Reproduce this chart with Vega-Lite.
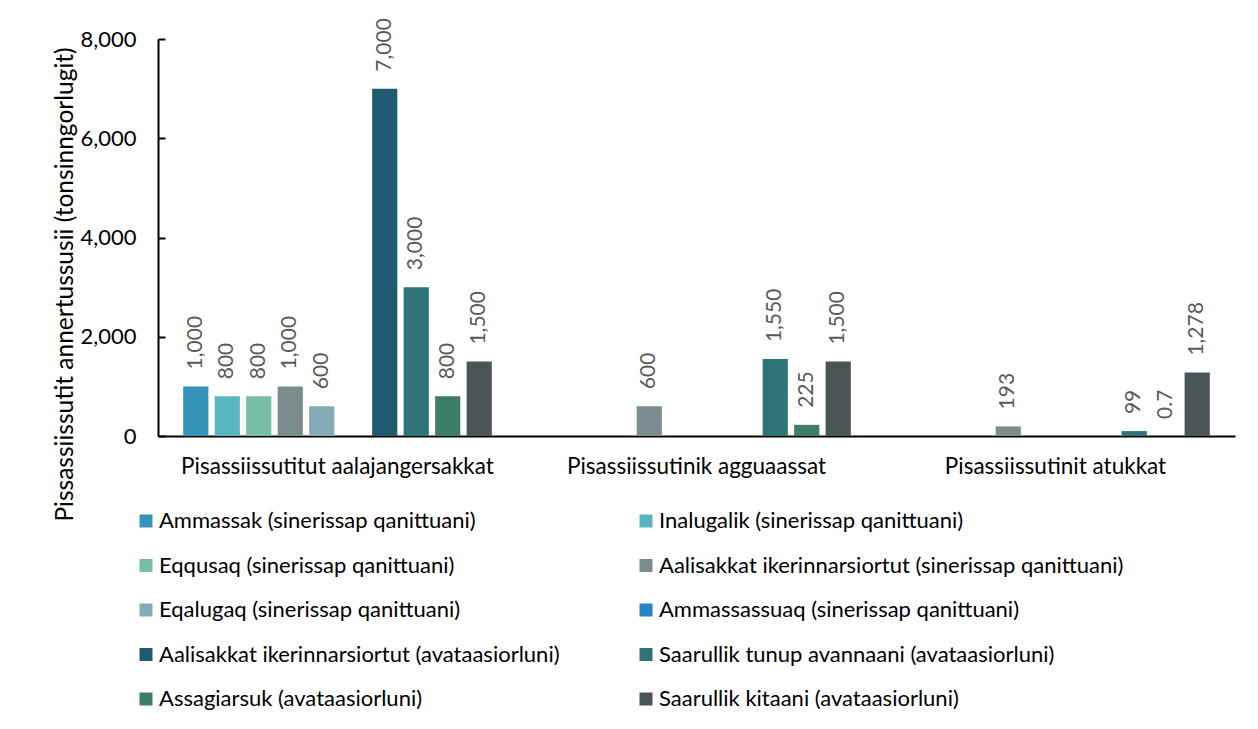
{
  "$schema": "https://vega.github.io/schema/vega-lite/v6.json",
  "autosize": "none",
  "width": 1077,
  "height": 397,
  "padding": {"left": 158, "top": 39, "right": 23, "bottom": 293},
  "background": "#ffffff",
  "config": {
    "font": "Lato",
    "view": {"stroke": null},
    "axis": {"grid": false}
  },
  "data": {
    "values": [
      {"group": "Pisassiissutitut aalajangersakkat", "series": "Ammassak (sinerissap qanittuani)", "value": 1000},
      {"group": "Pisassiissutitut aalajangersakkat", "series": "Inalugalik (sinerissap qanittuani)", "value": 800},
      {"group": "Pisassiissutitut aalajangersakkat", "series": "Eqqusaq (sinerissap qanittuani)", "value": 800},
      {"group": "Pisassiissutitut aalajangersakkat", "series": "Aalisakkat ikerinnarsiortut (sinerissap qanittuani)", "value": 1000},
      {"group": "Pisassiissutitut aalajangersakkat", "series": "Eqalugaq (sinerissap qanittuani)", "value": 600},
      {"group": "Pisassiissutitut aalajangersakkat", "series": "Aalisakkat ikerinnarsiortut (avataasiorluni)", "value": 7000},
      {"group": "Pisassiissutitut aalajangersakkat", "series": "Saarullik tunup avannaani (avataasiorluni)", "value": 3000},
      {"group": "Pisassiissutitut aalajangersakkat", "series": "Assagiarsuk (avataasiorluni)", "value": 800},
      {"group": "Pisassiissutitut aalajangersakkat", "series": "Saarullik kitaani (avataasiorluni)", "value": 1500},
      {"group": "Pisassiissutinik agguaassat", "series": "Aalisakkat ikerinnarsiortut (sinerissap qanittuani)", "value": 600},
      {"group": "Pisassiissutinik agguaassat", "series": "Saarullik tunup avannaani (avataasiorluni)", "value": 1550},
      {"group": "Pisassiissutinik agguaassat", "series": "Assagiarsuk (avataasiorluni)", "value": 225},
      {"group": "Pisassiissutinik agguaassat", "series": "Saarullik kitaani (avataasiorluni)", "value": 1500},
      {"group": "Pisassiissutinit atukkat", "series": "Aalisakkat ikerinnarsiortut (sinerissap qanittuani)", "value": 193},
      {"group": "Pisassiissutinit atukkat", "series": "Saarullik tunup avannaani (avataasiorluni)", "value": 99},
      {"group": "Pisassiissutinit atukkat", "series": "Assagiarsuk (avataasiorluni)", "value": 0.7},
      {"group": "Pisassiissutinit atukkat", "series": "Saarullik kitaani (avataasiorluni)", "value": 1278}
    ]
  },
  "encoding": {
    "x": {
      "field": "group",
      "type": "nominal",
      "sort": ["Pisassiissutitut aalajangersakkat", "Pisassiissutinik agguaassat", "Pisassiissutinit atukkat"],
      "scale": {"paddingInner": 0, "paddingOuter": 0},
      "axis": {
        "title": null,
        "labelAngle": 0,
        "ticks": false,
        "labelPadding": 19,
        "labelFontSize": 22.5,
        "labelColor": "#000000",
        "labelFont": "Lato",
        "domainColor": "#000000",
        "domainWidth": 2,
        "labelLimit": 500
      }
    },
    "xOffset": {
      "field": "series",
      "type": "nominal",
      "scale": {
        "domain": [
          "Ammassak (sinerissap qanittuani)",
          "Inalugalik (sinerissap qanittuani)",
          "Eqqusaq (sinerissap qanittuani)",
          "Aalisakkat ikerinnarsiortut (sinerissap qanittuani)",
          "Eqalugaq (sinerissap qanittuani)",
          "Ammassassuaq (sinerissap qanittuani)",
          "Aalisakkat ikerinnarsiortut (avataasiorluni)",
          "Saarullik tunup avannaani (avataasiorluni)",
          "Assagiarsuk (avataasiorluni)",
          "Saarullik kitaani (avataasiorluni)"
        ],
        "paddingInner": 0.2,
        "paddingOuter": 0.8
      }
    },
    "y": {
      "field": "value",
      "type": "quantitative",
      "scale": {"domain": [0, 8000]},
      "axis": {
        "title": "Pissassiissutit annertussusii (tonsinngorlugit)",
        "titleFontSize": 24.5,
        "titleFontWeight": "normal",
        "titleColor": "#000000",
        "titleFont": "Lato",
        "titleX": -93,
        "titleY": 245,
        "titleBaseline": "middle",
        "titleAngle": 270,
        "titleAlign": "center",
        "values": [0, 2000, 4000, 6000, 8000],
        "format": ",.0f",
        "labelFontSize": 22,
        "labelColor": "#000000",
        "labelFont": "Lato",
        "tickSize": -7,
        "tickColor": "#000000",
        "tickWidth": 2,
        "labelPadding": 29,
        "domainColor": "#000000",
        "domainWidth": 2
      }
    }
  },
  "layer": [
    {
      "mark": {"type": "bar"},
      "encoding": {
        "color": {
          "field": "series",
          "type": "nominal",
          "scale": {
            "domain": [
              "Ammassak (sinerissap qanittuani)",
              "Inalugalik (sinerissap qanittuani)",
              "Eqqusaq (sinerissap qanittuani)",
              "Aalisakkat ikerinnarsiortut (sinerissap qanittuani)",
              "Eqalugaq (sinerissap qanittuani)",
              "Ammassassuaq (sinerissap qanittuani)",
              "Aalisakkat ikerinnarsiortut (avataasiorluni)",
              "Saarullik tunup avannaani (avataasiorluni)",
              "Assagiarsuk (avataasiorluni)",
              "Saarullik kitaani (avataasiorluni)"
            ],
            "range": ["#3494BA", "#58B6C0", "#75BDA7", "#7A8C8E", "#84ACB6", "#2683C6", "#1F5A6E", "#2E7377", "#3D7E66", "#4A5557"]
          },
          "legend": {
            "title": null,
            "orient": "none",
            "legendX": -23,
            "legendY": 471,
            "direction": "horizontal",
            "columns": 2,
            "gridAlign": "each",
            "columnPadding": 75,
            "rowPadding": 22.5,
            "symbolType": "square",
            "symbolSize": 169,
            "symbolStrokeWidth": 0,
            "labelFontSize": 22,
            "labelColor": "#000000",
            "labelFont": "Lato",
            "labelOffset": 2,
            "labelLimit": 700
          }
        }
      }
    },
    {
      "mark": {
        "type": "text",
        "angle": 270,
        "align": "left",
        "baseline": "middle",
        "dx": 17,
        "fontSize": 21,
        "color": "#595959",
        "font": "Lato"
      },
      "encoding": {
        "text": {"field": "value", "type": "quantitative", "format": ","}
      }
    }
  ]
}
